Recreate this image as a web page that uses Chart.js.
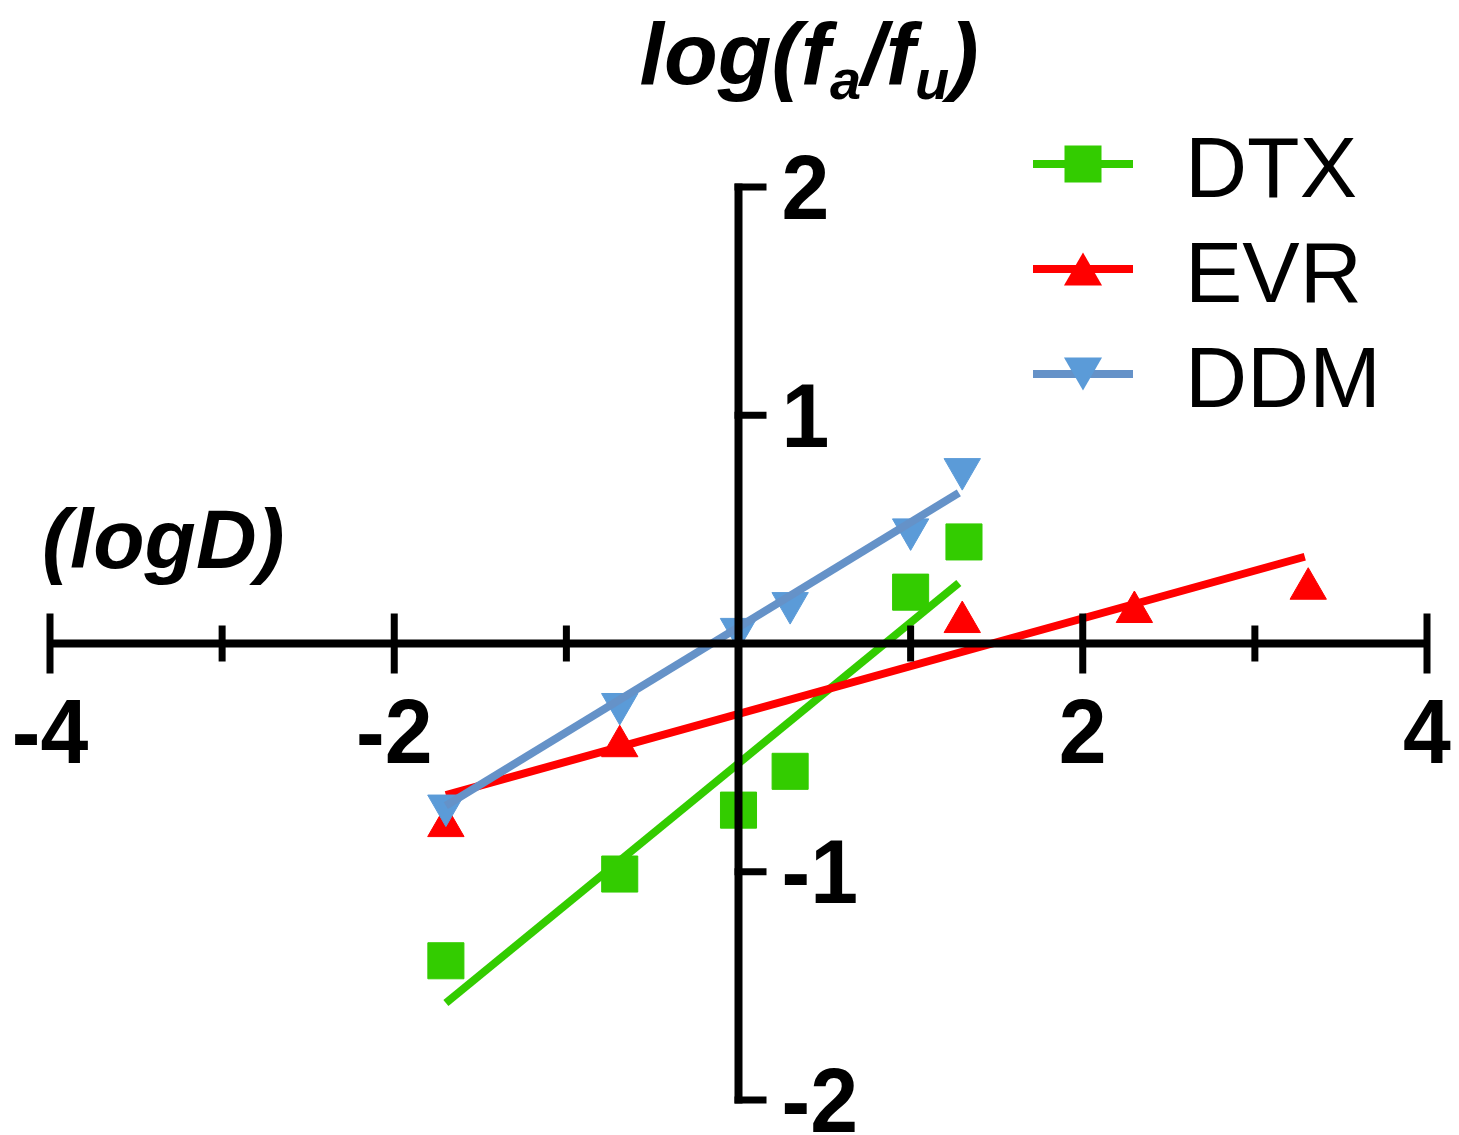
<!DOCTYPE html>
<html>
<head>
<meta charset="utf-8">
<script src="https://cdn.jsdelivr.net/npm/chart.js@4.4.1/dist/chart.umd.min.js"></script>
<style>
  html, body { margin: 0; padding: 0; background: #fff; }
  #wrap { position: relative; width: 1459px; height: 1135px; overflow: hidden; }
  #wrap canvas { position: absolute; left: 0; top: 0; }
  .txt { position: absolute; white-space: nowrap; color: #000; font-family: "Liberation Sans", Arial, sans-serif; }
  .bi { font-weight: bold; font-style: italic; font-size: 84px; line-height: 84px; }
  .title { font-size: 88px; line-height: 88px; }
  .sub { font-size: 56px; position: relative; top: 15px; }
  .leg { font-size: 86px; line-height: 86px; }
</style>
</head>
<body>
<div id="wrap">
  <canvas id="chart" width="1459" height="1135"></canvas>
  <div class="txt bi title" style="left:809px; top:10px; transform:translateX(-50%)">log(f<span class="sub">a</span>/f<span class="sub">u</span>)</div>
  <div class="txt bi" style="left:42px; top:497px">(logD)</div>
</div>
<script>
// values
const seriesNames = ['DTX', 'EVR', 'DDM']

const xDTX = [-1.7, -0.69, 0, 0.3, 1.0, 1.31]
const yDTX = [-1.39, -1.01, -0.73, -0.56, 0.225, 0.445]
const xEVR = [-1.7, -0.69, 1.3, 2.3, 3.31]
const yEVR = [-0.80, -0.45, 0.094, 0.138, 0.24]
const xDDM = [-1.7, -0.69, 0, 0.3, 1.0, 1.3]
const yDDM = [-0.71, -0.265, 0.064, 0.177, 0.50, 0.764]

// fitted lines (end points)
const fitXDTX = [-1.7, 1.28]
const fitYDTX = [-1.575, 0.265]
const fitXEVR = [-1.7, 3.29]
const fitYEVR = [-0.664, 0.38]
const fitXDDM = [-1.7, 1.28]
const fitYDDM = [-0.71, 0.66]

const xMajorTicks = [-4, -2, 2, 4]
const xMinorTicks = [-3, -1, 1, 3]
const xTickLabels = ['-4', '-2', '2', '4']
const yTicks = [-2, -1, 1, 2]
const yTickLabels = ['-2', '-1', '1', '2']

const green = '#33cc00'
const red = '#ff0000'
const blueMark = '#5b9bd8'
const blueLine = '#6592c8'

const pts = (xs, ys) => xs.map((x, i) => ({x: x, y: ys[i]}))

const tickFont = 'bold 86px "Liberation Sans", Arial, sans-serif'

function stretchedText(ctx, text, x, y, sy) {
    ctx.save()
    ctx.translate(x, y)
    ctx.scale(1, sy)
    ctx.fillText(text, 0, 0)
    ctx.restore()
}

function seg(ctx, x1, y1, x2, y2) {
    ctx.beginPath()
    ctx.moveTo(x1, y1)
    ctx.lineTo(x2, y2)
    ctx.stroke()
}

// axes crossing at zero, drawn on top of the data like in the original
const crossAxes = {
    id: 'crossAxes',
    afterDatasetsDraw(chart) {
        const ctx = chart.ctx
        const xs = chart.scales.x
        const ys = chart.scales.y
        const x0 = xs.getPixelForValue(0)
        const y0 = ys.getPixelForValue(0)
        ctx.save()
        ctx.strokeStyle = '#000'
        ctx.fillStyle = '#000'
        ctx.lineCap = 'butt'

        ctx.lineWidth = 8
        seg(ctx, xs.getPixelForValue(xMajorTicks[0]), y0, xs.getPixelForValue(xMajorTicks[xMajorTicks.length - 1]), y0)
        ctx.lineWidth = 7
        for (const v of xMajorTicks) {
            const px = xs.getPixelForValue(v)
            seg(ctx, px, y0 - 30, px, y0 + 30)
        }
        for (const v of xMinorTicks) {
            const px = xs.getPixelForValue(v)
            seg(ctx, px, y0 - 18, px, y0 + 18)
        }

        ctx.lineWidth = 8
        seg(ctx, x0, ys.getPixelForValue(yTicks[yTicks.length - 1]) - 3.5, x0, ys.getPixelForValue(yTicks[0]) + 3.5)
        ctx.lineWidth = 7
        for (const v of yTicks) {
            const py = ys.getPixelForValue(v)
            seg(ctx, x0 - 4, py, x0 + 28, py)
        }

        ctx.font = tickFont
        ctx.textBaseline = 'alphabetic'
        ctx.textAlign = 'center'
        xMajorTicks.forEach((v, i) => {
            stretchedText(ctx, xTickLabels[i], xs.getPixelForValue(v), y0 + 119, 1.06)
        })
        ctx.textAlign = 'left'
        yTicks.forEach((v, i) => {
            stretchedText(ctx, yTickLabels[i], x0 + 43, ys.getPixelForValue(v) + 31.5, 1.06)
        })
        ctx.restore()
    }
}

// legend: line with marker in the middle
const legendStyles = [
    {line: green, mark: green, shape: 'rect'},
    {line: red, mark: red, shape: 'up'},
    {line: blueLine, mark: blueMark, shape: 'down'}
]
const legendTop = 164
const legendStep = 105

const legendSymbols = {
    id: 'legendSymbols',
    afterDraw(chart) {
        const ctx = chart.ctx
        ctx.save()
        legendStyles.forEach((s, i) => {
            const cy = legendTop + i * legendStep
            const cx = 1083
            ctx.strokeStyle = s.line
            ctx.lineWidth = 8
            seg(ctx, 1033, cy, 1133, cy)
            ctx.fillStyle = s.mark
            ctx.beginPath()
            if (s.shape === 'rect') {
                ctx.rect(cx - 18.5, cy - 18.5, 37, 37)
            } else {
                const r = 22
                const d = s.shape === 'up' ? 1 : -1
                ctx.moveTo(cx, cy - d * 0.75 * r)
                ctx.lineTo(cx + 0.866 * r, cy + d * 0.75 * r)
                ctx.lineTo(cx - 0.866 * r, cy + d * 0.75 * r)
                ctx.closePath()
            }
            ctx.fill()
        })
        ctx.restore()
    }
}

const wrap = document.getElementById('wrap')
seriesNames.forEach((name, i) => {
    const d = document.createElement('div')
    d.className = 'txt leg'
    d.style.left = '1185px'
    d.style.top = (legendTop + i * legendStep - 40) + 'px'
    d.textContent = name
    wrap.appendChild(d)
})

const ctx = document.getElementById('chart').getContext('2d')

const myChart = new Chart(ctx, {
    type: 'scatter',
    data: {
        datasets: [
            {
                label: seriesNames[0],
                data: pts(xDTX, yDTX),
                pointStyle: 'rect',
                pointRadius: 25.5,
                pointBackgroundColor: green,
                pointBorderColor: green,
                pointBorderWidth: 1,
                clip: false,
                order: 6
            },
            {
                label: seriesNames[0] + ' fit',
                data: pts(fitXDTX, fitYDTX),
                showLine: true,
                borderColor: green,
                borderWidth: 8,
                pointRadius: 0,
                clip: false,
                order: 5
            },
            {
                label: seriesNames[1],
                data: pts(xEVR, yEVR),
                pointStyle: 'triangle',
                pointRadius: 21,
                pointBackgroundColor: red,
                pointBorderColor: red,
                pointBorderWidth: 1,
                clip: false,
                order: 4
            },
            {
                label: seriesNames[1] + ' fit',
                data: pts(fitXEVR, fitYEVR),
                showLine: true,
                borderColor: red,
                borderWidth: 8,
                pointRadius: 0,
                clip: false,
                order: 3
            },
            {
                label: seriesNames[2],
                data: pts(xDDM, yDDM),
                pointStyle: 'triangle',
                pointRotation: 180,
                pointRadius: 21,
                pointBackgroundColor: blueMark,
                pointBorderColor: blueMark,
                pointBorderWidth: 1,
                clip: false,
                order: 2
            },
            {
                label: seriesNames[2] + ' fit',
                data: pts(fitXDDM, fitYDDM),
                showLine: true,
                borderColor: blueLine,
                borderWidth: 8,
                pointRadius: 0,
                clip: false,
                order: 1
            }
        ]
    },
    options: {
        responsive: false,
        animation: false,
        layout: {
            padding: {left: 50, right: 32, top: 187, bottom: 35}
        },
        plugins: {
            legend: {display: false},
            tooltip: {enabled: false}
        },
        scales: {
            x: {type: 'linear', min: -4, max: 4, display: false},
            y: {type: 'linear', min: -2, max: 2, display: false}
        }
    },
    plugins: [crossAxes, legendSymbols]
})
</script>
</body>
</html>
